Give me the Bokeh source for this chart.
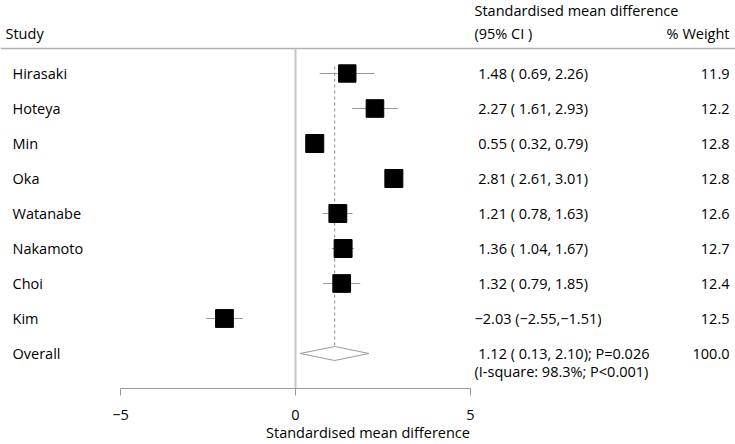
from bokeh.plotting import figure
from bokeh.models import ColumnDataSource, Range1d, FixedTicker
from bokeh.core.properties import value
from bokeh.embed import file_html
from bokeh.resources import INLINE
import math

# ---- data ----
studies = ["Hirasaki", "Hoteya", "Min", "Oka", "Watanabe", "Nakamoto", "Choi", "Kim"]
smd = [1.48, 2.27, 0.55, 2.81, 1.21, 1.36, 1.32, -2.03]
ci_low = [0.69, 1.61, 0.32, 2.61, 0.78, 1.04, 0.79, -2.55]
ci_high = [2.26, 2.93, 0.79, 3.01, 1.63, 1.67, 1.85, -1.51]
weights = [11.9, 12.2, 12.8, 12.8, 12.6, 12.7, 12.4, 12.5]
overall_label = "Overall"
overall_smd = 1.12
overall_low = 0.13
overall_high = 2.10
overall_p = "0.026"
overall_weight = 100.0
i_square = 98.3
het_p = "<0.001"
tick_values = [-5, 0, 5]
tick_labels = ["\u22125", "0", "5"]

FONT = value("Open Sans")
FS = "14.5px"
W, H = 735, 444
AXIS_Y = 388          # pixel row of the x axis line
ROW0, ROWSTEP = 73, 35


def xpx(c):
    return (c - 295) / 35.0


def ypx(c):
    return (c - ROW0) / float(ROWSTEP)


def f5(v):
    s = f"{v:.2f}".replace("-", "\u2212")
    return s if v < 0 else "\u00a0" + s


def ci_text(e, lo, hi):
    return f"{f5(e)} ({f5(lo)},{f5(hi)})"


rows = list(range(len(studies)))
orow = len(studies)

p = figure(width=W, height=H, output_backend="svg", toolbar_location=None,
           x_range=Range1d(xpx(0), xpx(W)), y_range=Range1d(ypx(AXIS_Y), ypx(0)),
           y_axis_location=None, min_border_left=0, min_border_right=0,
           min_border_top=0, min_border_bottom=H - AXIS_Y)
p.outline_line_color = None
p.xgrid.visible = False
p.ygrid.visible = False

# x axis
ax = p.xaxis[0]
ax.ticker = FixedTicker(ticks=tick_values)
ax.major_label_overrides = {t: l for t, l in zip(tick_values, tick_labels)}
ax.bounds = (min(tick_values), max(tick_values))
ax.axis_line_color = "#9a9a9a"
ax.major_tick_line_color = "#9a9a9a"
ax.major_tick_in = 0
ax.major_tick_out = 7
ax.minor_tick_line_color = None
ax.major_label_text_font = "Open Sans"
ax.major_label_text_font_size = FS
ax.major_label_text_color = "black"
ax.major_label_standoff = 14
ax.axis_label = "Standardised mean difference"
ax.axis_label_text_font = "Open Sans"
ax.axis_label_text_font_size = FS
ax.axis_label_text_font_style = "normal"
ax.axis_label_text_color = "black"
ax.axis_label_standoff = 0

# top rule
p.segment(x0=[xpx(0)], x1=[xpx(W)], y0=[ypx(48)], y1=[ypx(48)],
          line_color="#b0b0b0", line_width=1.5)
# zero line
p.segment(x0=[0], x1=[0], y0=[ypx(48)], y1=[ypx(AXIS_Y)],
          line_color="#c8c8c8", line_width=2)
# overall dashed line
p.segment(x0=[overall_smd], x1=[overall_smd], y0=[-0.2], y1=[orow - 0.2],
          line_color="#8a8a8a", line_width=1, line_dash="3 3")

src = ColumnDataSource(dict(
    y=rows, est=smd, lo=ci_low, hi=ci_high, w=weights,
    size=[18 * math.sqrt(w / 12.8) for w in weights],
    name=studies,
    ci=[ci_text(e, l, h) for e, l, h in zip(smd, ci_low, ci_high)],
    wt=[f"{w:.1f}" for w in weights],
))

p.segment(x0="lo", x1="hi", y0="y", y1="y", source=src,
          line_color="#9a9a9a", line_width=1)
p.scatter(x="est", y="y", size="size", marker="square", source=src,
          fill_color="black", line_color="black")

# diamond
dh = 0.2
p.patch(x=[overall_low, overall_smd, overall_high, overall_smd],
        y=[orow, orow - dh, orow, orow + dh],
        fill_color="white", line_color="#9a9a9a", line_width=1)

# texts
p.text(x=xpx(12), y="y", text="name", source=src, text_font=FONT,
       text_font_size=FS, text_baseline="middle", text_color="black")
p.text(x=xpx(474), y="y", text="ci", source=src, text_font=FONT,
       text_font_size=FS, text_baseline="middle", text_color="black")
p.text(x=xpx(729), y="y", text="wt", source=src, text_font=FONT,
       text_font_size=FS, text_baseline="middle", text_align="right",
       text_color="black")

p.text(x=[xpx(12)], y=[orow], text=[overall_label], text_font=FONT,
       text_font_size=FS, text_baseline="middle", text_color="black")
p.text(x=[xpx(474)], y=[orow],
       text=[ci_text(overall_smd, overall_low, overall_high) + f"; P={overall_p}"],
       text_font=FONT, text_font_size=FS, text_baseline="middle", text_color="black")
p.text(x=[xpx(474)], y=[ypx(371)],
       text=[f"(I-square: {i_square:.1f}%; P{het_p})"],
       text_font=FONT, text_font_size=FS, text_baseline="middle", text_color="black")
p.text(x=[xpx(729)], y=[orow], text=[f"{overall_weight:.1f}"], text_font=FONT,
       text_font_size=FS, text_baseline="middle", text_align="right", text_color="black")

# headers
p.text(x=[xpx(474)], y=[ypx(10)], text=["Standardised mean difference"],
       text_font=FONT, text_font_size=FS, text_baseline="middle", text_color="black")
p.text(x=[xpx(5)], y=[ypx(33)], text=["Study"],
       text_font=FONT, text_font_size=FS, text_baseline="middle", text_color="black")
p.text(x=[xpx(474)], y=[ypx(33)], text=["(95% CI )"],
       text_font=FONT, text_font_size=FS, text_baseline="middle", text_color="black")
p.text(x=[xpx(729)], y=[ypx(33)], text=["% Weight"],
       text_font=FONT, text_font_size=FS, text_baseline="middle",
       text_align="right", text_color="black")

open("out.html", "w").write(file_html(p, INLINE))
